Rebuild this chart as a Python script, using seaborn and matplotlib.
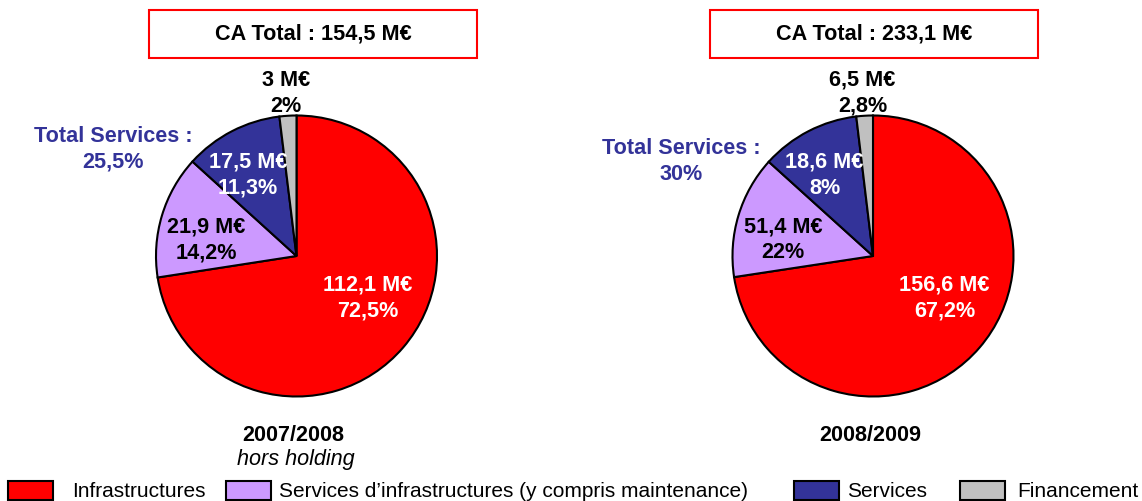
import matplotlib
matplotlib.use("Agg")
import matplotlib.pyplot as plt
from matplotlib.patches import Rectangle
import seaborn as sns

# ---------------- data ----------------
categories = ["Infrastructures",
              "Services d’infrastructures (y compris maintenance)",
              "Services", "Financement"]
ca_0708 = [112.1, 21.9, 17.5, 3.0]          # M€
pct_0708 = [72.5, 14.2, 11.3, 2.0]          # %
ca_0809 = [156.6, 51.4, 18.6, 6.5]          # M€
pct_0809 = [67.2, 22.0, 8.0, 2.8]           # %
# slice shares as drawn for the 2008/2009 pie in the reference picture
drawn_0809 = [72.6, 14.1, 11.4, 1.9]
totals = [154.5, 233.1]
services_totals = [25.5, 30.0]
periods = ["2007/2008", "2008/2009"]
period_notes = ["hors holding", ""]

# ---------------- style ----------------
sns.set_theme(style="white")
plt.rcParams["font.family"] = ["Liberation Sans", "DejaVu Sans"]
palette = sns.color_palette(["#FF0000", "#CC99FF", "#333399", "#C0C0C0"])
text_on = ["white", "black", "white", "black"]
SERV = "#333399"
FS = 15.6
FS_LEG = 15

W, H = 1142, 502
fig = plt.figure(figsize=(W / 100, H / 100), dpi=100)
ax = fig.add_axes([0, 0, 1, 1])


def Y(y):
    return H - y


def fmt(v):
    s = f"{v:.1f}"
    if s.endswith(".0"):
        s = s[:-2]
    return s.replace(".", ",")


pies = [
    dict(cx=296.5, values=ca_0708, ca=ca_0708, pct=pct_0708,
         box=(149, 477), serv=(113, 136)),
    dict(cx=873.0, values=drawn_0809, ca=ca_0809, pct=pct_0809,
         box=(710, 1038), serv=(681, 148)),
]
cy, R = 257.0, 140.5
# label offsets (pixels, y downwards) relative to the pie centre
offsets = [(71.5, 28), (-90, -30), (-48.5, -95), (-10.5, -177)]

for i, p in enumerate(pies):
    cx = p["cx"]
    ax.pie(p["values"], colors=palette, startangle=90, counterclock=False,
           center=(cx, Y(cy)), radius=R, frame=True,
           wedgeprops=dict(edgecolor="black", linewidth=1.5))
    for k in range(4):
        dx, dy = offsets[k]
        col = text_on[k]
        ax.text(cx + dx, Y(cy + dy), f"{fmt(p['ca'][k])} M€", ha="center",
                va="center", fontsize=FS, fontweight="bold", color=col)
        ax.text(cx + dx, Y(cy + dy + 26), f"{fmt(p['pct'][k])}%", ha="center",
                va="center", fontsize=FS, fontweight="bold", color=col)
    # title box
    x0, x1 = p["box"]
    ax.add_patch(Rectangle((x0, Y(59)), x1 - x0, 48, fill=False,
                           edgecolor="#FF0000", linewidth=1.5))
    ax.text((x0 + x1) / 2, Y(34), f"CA Total : {fmt(totals[i])} M€",
            ha="center", va="center", fontsize=FS, fontweight="bold",
            color="black")
    # total services
    sx, sy = p["serv"]
    ax.text(sx, Y(sy), "Total Services :", ha="center", va="center",
            fontsize=FS, fontweight="bold", color=SERV)
    ax.text(sx, Y(sy + 26), f"{fmt(services_totals[i])}%", ha="center",
            va="center", fontsize=FS, fontweight="bold", color=SERV)
    # period
    ax.text(cx - 3, Y(436), periods[i], ha="center", va="center",
            fontsize=FS, fontweight="bold", color="black")
    if period_notes[i]:
        ax.text(cx - 1, Y(460), period_notes[i], ha="center", va="center",
                fontsize=FS, fontstyle="italic", color="black")

# legend
leg_boxes = [8, 226, 794, 960]
leg_text = [72, 279, 847, 1017]
for k in range(4):
    ax.add_patch(Rectangle((leg_boxes[k], Y(500.5)), 45, 18.5,
                           facecolor=palette[k], edgecolor="black",
                           linewidth=1.5, clip_on=False))
    ax.text(leg_text[k], Y(497), categories[k], ha="left", va="baseline",
            fontsize=FS_LEG, color="black")

ax.set_xlim(0, W)
ax.set_ylim(0, H)
ax.set_aspect("equal")
ax.axis("off")

fig.savefig("out.png", dpi=100, facecolor="white")
